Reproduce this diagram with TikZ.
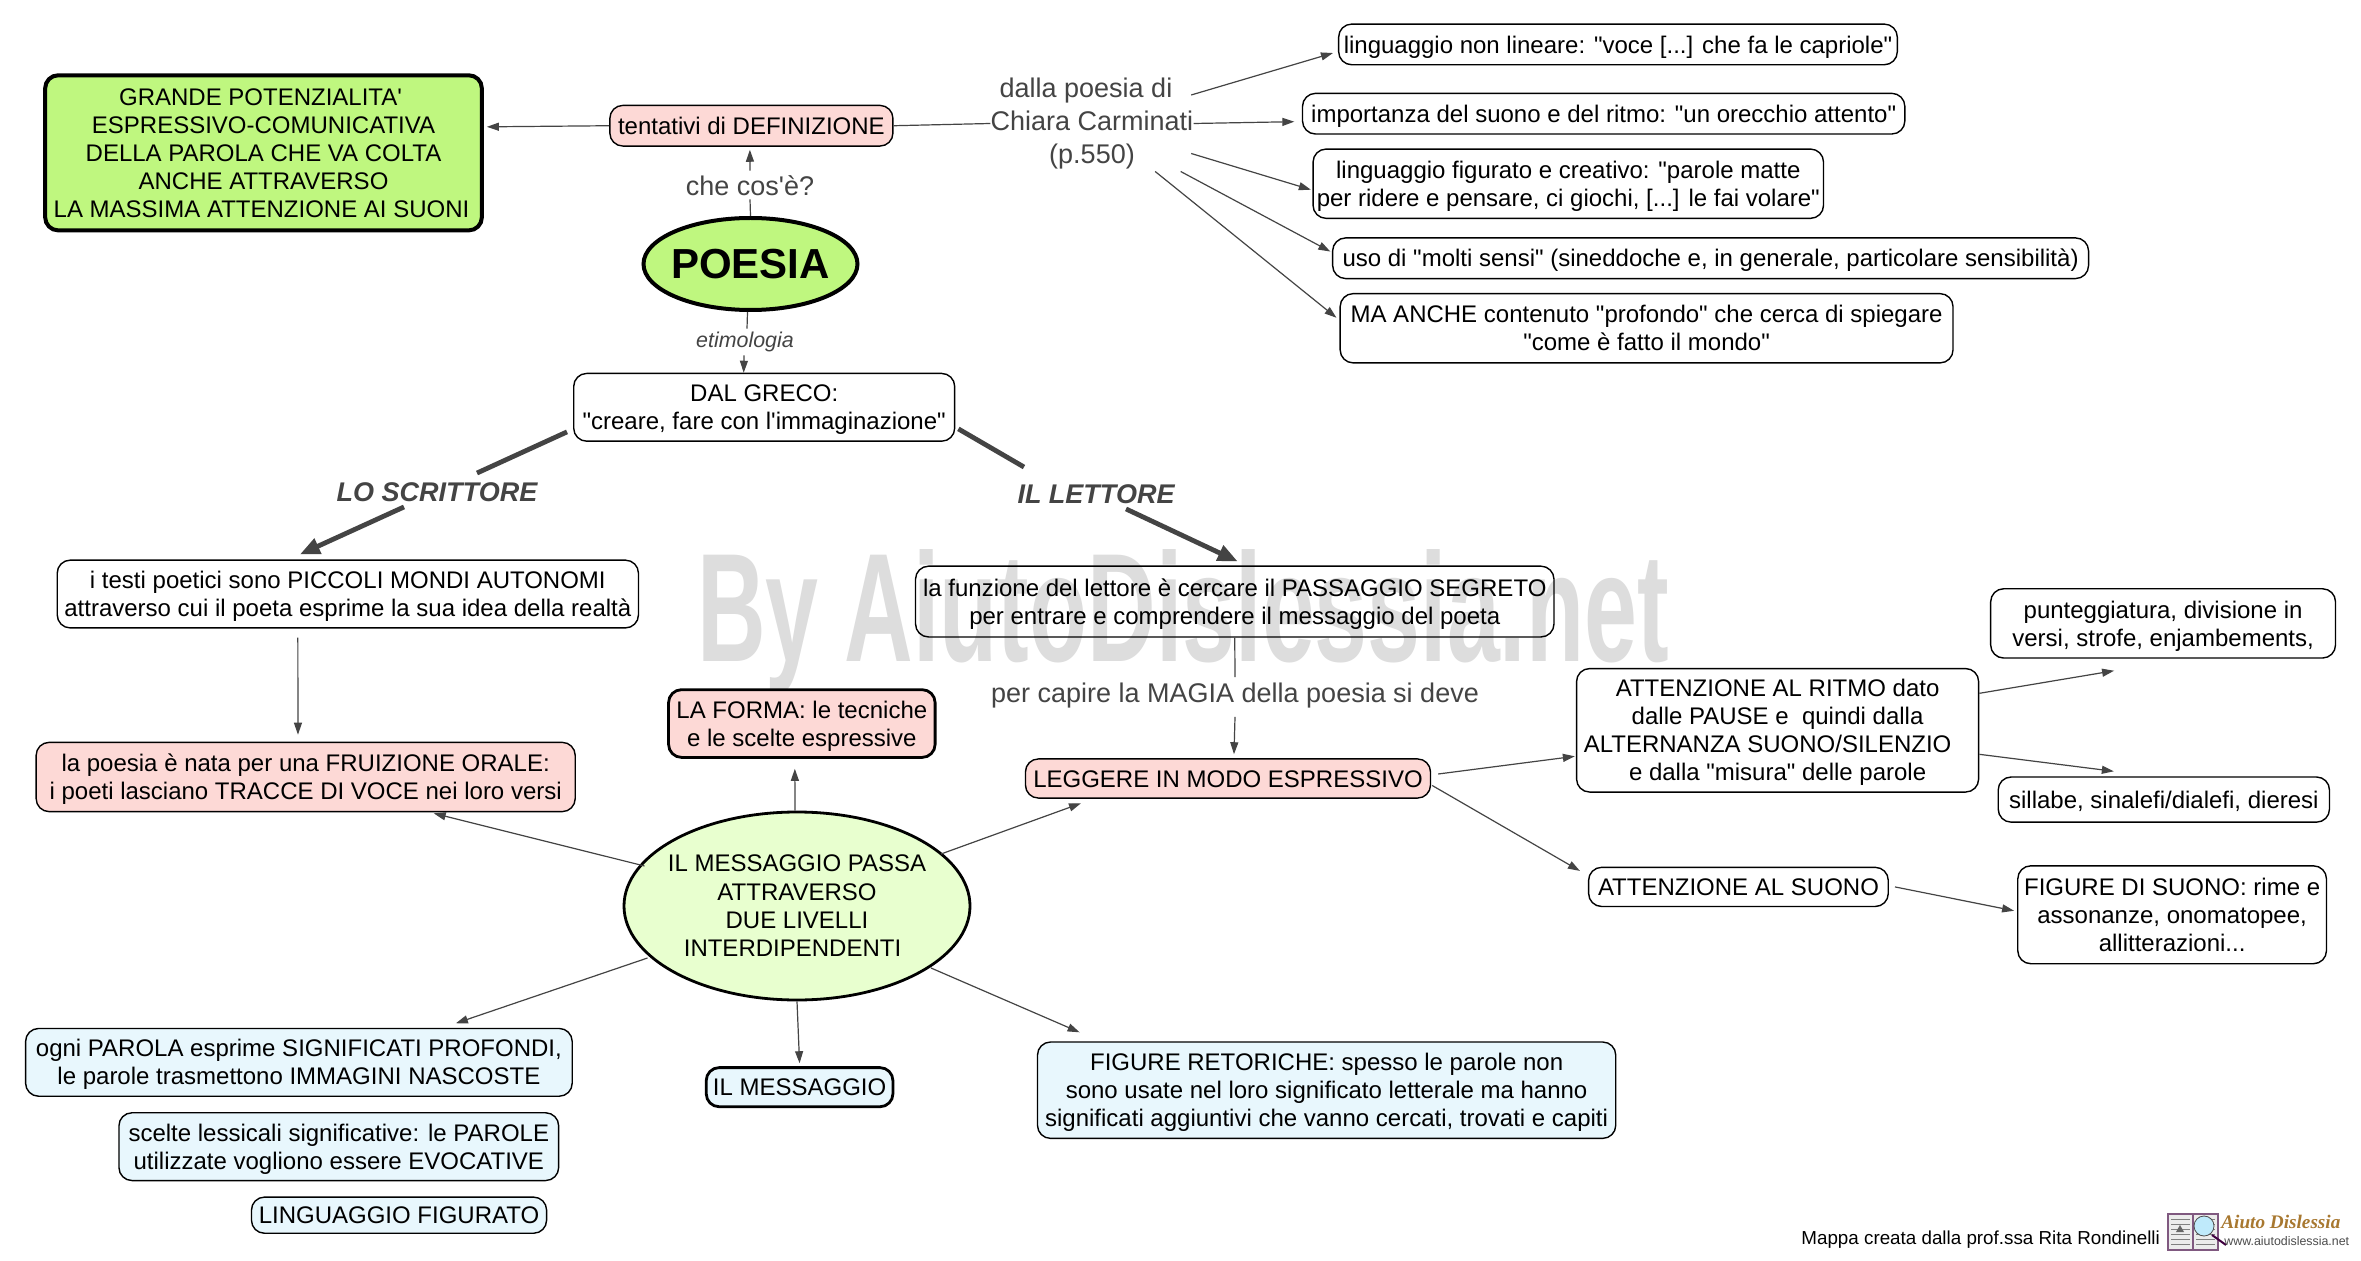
\documentclass[tikz,border=0pt]{standalone}
\usepackage{fontspec}
\setmainfont{Liberation Sans}[Ligatures=TeXOff]
\newfontfamily\logofont{Liberation Serif}[Ligatures=TeXOff]
\usetikzlibrary{shapes.geometric,arrows.meta,calc}
\definecolor{grn}{HTML}{BFF77F}
\definecolor{pnk}{HTML}{FDD9D6}
\definecolor{pgrn}{HTML}{E8FFCF}
\definecolor{pblu}{HTML}{E8F7FD}
\definecolor{lnk}{HTML}{444444}
\definecolor{wm}{HTML}{DDDDDD}
\definecolor{gold}{HTML}{A87830}
\newcommand\mytop{\rule{0pt}{12.3pt}}
\newcommand\mybot{\rule[-3.7pt]{0pt}{3.7pt}}
\newcommand\bx[7][]{%
  \pgfmathsetmacro\bcx{(#3+#5)/2*1.5058}%
  \pgfmathsetmacro\bcy{(#4+#6)/2*1.5058}%
  \pgfmathsetmacro\bw{(#5-#3)*1.5058/2}%
  \pgfmathsetmacro\bh{(#6-#4)*1.5058/2}%
  \node[rbox,minimum width=\bw pt,minimum height=\bh pt,#1] (#2) at (\bcx,\bcy) {\mytop #7\mybot};}
\tikzset{
  x=0.5pt,y=-0.5pt,
  rbox/.style={draw=black,line width=0.7pt,fill=white,rounded corners=6.5pt,align=center,inner sep=0pt,font=\fontsize{12}{14}\selectfont},
  conn/.style={draw=lnk,line width=0.6pt,-{Triangle[length=6pt,width=4pt]}},
  plain/.style={draw=lnk,line width=0.6pt},
  fat/.style={draw=lnk,line width=2.4pt,-{Triangle[length=10pt,width=8pt]}},
  fatp/.style={draw=lnk,line width=2.4pt},
  lab/.style={text=lnk,align=center,inner sep=0pt,font=\fontsize{13.5}{16.5}\selectfont},
}
\begin{document}
\begin{tikzpicture}
\useasboundingbox (0,0) rectangle (2361,1261);
\fill[white] (0,0) rectangle (2361,1261);
% watermark
\node[inner sep=0pt,text=wm,anchor=center] (wmark) at (1183,622) {\resizebox{486pt}{56pt}{\bfseries By AiutoDislessia.net}};
% nodes
\bx[fill=grn,line width=2pt]{big}{30}{50}{320}{153}{GRANDE POTENZIALITA'\hspace*{3pt}\\ESPRESSIVO-COMUNICATIVA\hspace*{3pt}\\DELLA PAROLA CHE VA COLTA\hspace*{3pt}\\ANCHE ATTRAVERSO\hspace*{3pt}\\LA MASSIMA ATTENZIONE AI SUONI\hspace*{2pt}}
\bx[fill=pnk]{tent}{405}{70}{593}{97}{tentativi di DEFINIZIONE}
\node[ellipse,draw=black,line width=2pt,fill=grn,minimum width=107pt,minimum height=46pt,inner xsep=-10pt,inner ysep=-5pt,font=\fontsize{21}{24}\selectfont\bfseries] (poesia) at (750.5,264) {POESIA};
\bx{greco}{381}{248}{634}{293}{DAL GRECO:\\"creare, fare con l'immaginazione"}
\bx{r1}{889}{16}{1260}{43}{linguaggio non lineare: "voce [...] che fa le capriole"}
\bx{r2}{865}{62}{1265}{89}{importanza del suono e del ritmo: "un orecchio attento"}
\bx{r3}{872}{99}{1211}{145}{linguaggio figurato e creativo: "parole matte\\per ridere e pensare, ci giochi, [...] le fai volare"}
\bx{r4}{885}{158}{1387}{185}{uso di "molti sensi" (sineddoche e, in generale, particolare sensibilità)}
\bx{r5}{890}{195}{1297}{241}{MA ANCHE contenuto "profondo" che cerca di spiegare\\"come è fatto il mondo"}
\bx{testi}{38}{372}{424}{417}{i testi poetici sono PICCOLI MONDI AUTONOMI\\attraverso cui il poeta esprime la sua idea della realtà}
\bx[fill=pnk]{fruiz}{24}{493}{382}{539}{la poesia è nata per una FRUIZIONE ORALE:\\i poeti lasciano TRACCE DI VOCE nei loro versi}
\bx[fill=pnk,line width=1.4pt]{forma}{444}{458}{621}{503}{LA FORMA: le tecniche\\e le scelte espressive}
\bx[fill=none]{funz}{608}{376}{1032}{423}{la funzione del lettore è cercare il PASSAGGIO SEGRETO\\per entrare e comprendere il messaggio del poeta}
\bx[fill=pnk]{legg}{681}{504}{950}{530}{LEGGERE IN MODO ESPRESSIVO}
\node[ellipse,draw=black,line width=1.4pt,fill=pgrn,minimum width=173pt,minimum height=94pt,inner xsep=-10pt,inner ysep=0pt,align=center,font=\fontsize{12}{14.2}\selectfont] (msg) at (797,906) {IL MESSAGGIO PASSA\\ATTRAVERSO\\DUE LIVELLI\\INTERDIPENDENTI\hspace*{4.5pt}};
\bx{ritmo}{1047}{444}{1314}{526}{ATTENZIONE AL RITMO dato\\dalle PAUSE e\ \ quindi dalla\\\hspace*{-10pt}ALTERNANZA SUONO/SILENZIO\\e dalla "misura" delle parole}
\bx{suono}{1055}{576}{1254}{602}{ATTENZIONE AL SUONO}
\bx{punt}{1322}{391}{1551}{437}{punteggiatura, divisione in\\versi, strofe, enjambements,}
\bx{sill}{1327}{516}{1547}{546}{sillabe, sinalefi/dialefi, dieresi}
\bx{fsuono}{1340}{575}{1545}{640}{FIGURE DI SUONO: rime e\\assonanze, onomatopee,\\allitterazioni...}
\bx[fill=pblu]{ogni}{17}{683}{380}{728}{ogni PAROLA esprime SIGNIFICATI PROFONDI,\\le parole trasmettono IMMAGINI NASCOSTE}
\bx[fill=pblu]{scelte}{79}{739}{371}{784}{scelte lessicali significative: le PAROLE\\utilizzate vogliono essere EVOCATIVE}
\bx[fill=pblu]{lfig}{167}{795}{363}{819}{LINGUAGGIO FIGURATO}
\bx[fill=pblu,line width=1.4pt]{imsg}{469}{709}{593}{735}{IL MESSAGGIO}
\bx[fill=pblu]{fret}{689}{692}{1073}{756}{FIGURE RETORICHE: spesso le parole non\\sono usate nel loro significato letterale ma hanno\\significati aggiuntivi che vanno cercati, trovati e capiti}
% labels
\node[lab] (chec) at (750,186) {che cos'è?};
\node[lab,font=\fontsize{10.7}{12}\selectfont\itshape] (etim) at (745,342) {etimologia};
\node[lab] (dalla) at (1092,123.5) {dalla poesia di\hspace*{6pt}\\Chiara Carminati\\(p.550)};
\node[lab,font=\fontsize{13.5}{16}\selectfont\bfseries\itshape] (scr) at (437,492) {LO SCRITTORE};
\node[lab,font=\fontsize{13.5}{16}\selectfont\bfseries\itshape] (let) at (1096,494) {IL LETTORE};
\node[lab] (magia) at (1235,696) {per capire la MAGIA della poesia si deve};
% connectors
\draw[conn] (tent.west) -- ($(big.east)+(3,-26)$);
\draw[plain] (poesia.north) -- ($(chec.south)+(0,3)$);
\draw[conn] ($(chec.north)+(0,-5)$) -- ($(tent.south)+(-1.5,3)$);
\draw[plain] ($(poesia.south)+(-3,0)$) -- ($(etim.north)+(2,-3)$);
\draw[conn] ($(etim.south)+(-1,3)$) -- ($(greco.north)+(-20.5,0)$);
\draw[plain] (tent.east) -- (dalla.west);
\draw[conn] ($(dalla.east)+(-2.5,-28.5)$) -- ($(r1.west)+(-5,8.6)$);
\draw[conn] (dalla.east) -- ($(r2.west)+(-7.5,8)$);
\draw[conn] ($(dalla.east)+(-2.5,30)$) -- ($(r3.west)+(-1.5,6)$);
\draw[conn] ($(dalla.east)+(-13,48)$) -- ($(r4.west)+(-1.6,-6.7)$);
\draw[conn] ($(dalla.east)+(-38.5,48)$) -- ($(r5.west)+(-3,-10.5)$);
\draw[fatp] ($(greco.south west)+(-6,-10)$) -- ($(scr.north)+(40,-9)$);
\draw[fat] ($(scr.south)+(-33,5)$) -- ($(testi.north)+(-48,-5)$);
\draw[fatp] ($(greco.south east)+(3,-13)$) -- ($(let.north)+(-72,-17)$);
\draw[fat] ($(let.south)+(30,5)$) -- ($(funz.north)+(3,-4)$);
\draw[conn] ($(testi.south)+(-50,9)$) -- ($(fruiz.north)+(-7.7,-7)$);
\draw[plain] (funz.south) -- ($(magia.north)+(0,-6)$);
\draw[conn] ($(magia.south)+(0,8)$) -- ($(legg.north)+(6,-4)$);
\draw[conn] ($(msg.north)+(-2,0)$) -- ($(forma.south)+(-7,10)$);
\draw[conn] ($(msg.center)+(-152.5,-40)$) -- ($(fruiz.south)+(128,1)$);
\draw[conn] ($(msg.center)+(144,-52)$) -- ($(legg.south)+(-147,4.5)$);
\draw[conn] ($(msg.center)+(-149.5,52)$) -- ($(ogni.north)+(157,-4.5)$);
\draw[conn] (msg.south) -- ($(imsg.north)+(0,-3)$);
\draw[conn] ($(msg.center)+(134,62)$) -- ($(fret.north)+(-247,-9)$);
\draw[conn] ($(legg.east)+(7,-4.5)$) -- ($(ritmo.west)+(-1,26)$);
\draw[conn] ($(legg.east)+(1,7)$) -- ($(suono.west)+(-8,-16)$);
\draw[conn] ($(suono.east)+(6,0)$) -- ($(fsuono.west)+(-3,-4)$);
\draw[conn] ($(ritmo.east)+(0,-37)$) -- ($(punt.south)+(-49,12)$);
\draw[conn] ($(ritmo.east)+(0,24)$) -- ($(sill.north)+(-50,-5)$);
% footer
\node[inner sep=0pt,anchor=west,font=\fontsize{9.4}{11}\selectfont] (foot) at (1801,1240) {Mappa creata dalla prof.ssa Rita Rondinelli};
\fill[gray!15] (2168,1214) rectangle (2218,1250);
\draw[gray!70!violet,line width=0.6pt] (2168,1214) rectangle (2193,1250) (2193,1214) rectangle (2218,1250);
\foreach \yy in {1219,1224,1229,1234,1239,1244}{\draw[gray,line width=0.3pt] (2171,\yy) -- (2190,\yy) (2196,\yy) -- (2215,\yy);}
\fill[black!60] (2176,1232) -- (2180,1225) -- (2184,1232) -- cycle;
\draw[violet!50!black,line width=1pt] (2212,1235) -- (2226,1245);
\node[circle,draw=gray!60!black,fill=cyan!25,minimum size=10pt,inner sep=0pt] (lens) at (2204,1226) {};
\node[inner sep=0pt,anchor=west,text=gold,font=\logofont\fontsize{9.6}{11}\selectfont\bfseries\itshape] (logo) at (2221,1222) {Aiuto Dislessia};
\node[inner sep=0pt,anchor=west,text=black!70,font=\fontsize{6.2}{7}\selectfont] (url) at (2224,1241) {www.aiutodislessia.net};
\end{tikzpicture}
\end{document}
